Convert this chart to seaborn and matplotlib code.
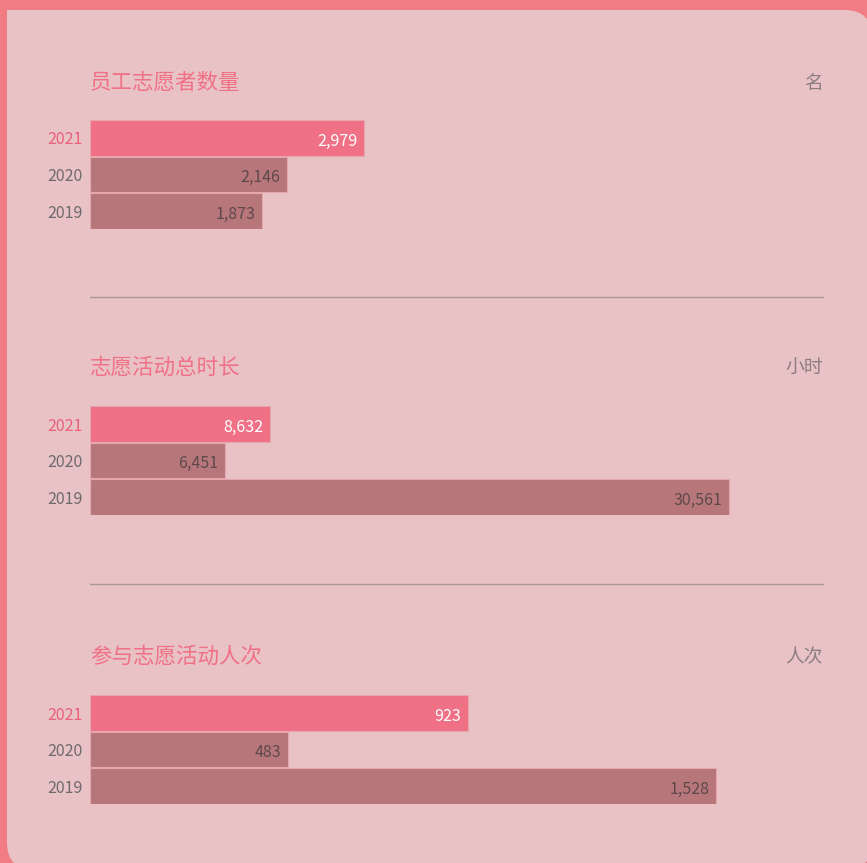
import matplotlib
matplotlib.use("Agg")
import matplotlib.pyplot as plt
from matplotlib.patches import FancyBboxPatch, Rectangle
from matplotlib.lines import Line2D
import seaborn as sns

# ==============================================
# DADOS
# ==============================================
years = ["2021", "2020", "2019"]

titles = ["员工志愿者数量", "志愿活动总时长", "参与志愿活动人次"]
units = ["名", "小时", "人次"]

volunteers = [2979, 2146, 1873]
hours = [8632, 6451, 30561]
participations = [923, 483, 1528]

series = [volunteers, hours, participations]

# ==============================================
# ESTILO
# ==============================================
sns.set_style("white")
plt.rcParams["font.family"] = ["Noto Sans CJK SC", "DejaVu Sans"]

outer_bg = "#F27C84"
inner_bg = "#E9C2C6"
pink = "#F07086"
rose = "#B7777A"
title_color = "#F07086"
unit_color = "#8C7E80"
tick_pink = "#E8607A"
tick_grey = "#6E6A6B"

W, H = 867, 863
fig = plt.figure(figsize=(W / 100, H / 100), dpi=100, facecolor=outer_bg)


def fx(x):
    return x / W


def fy(y):
    return 1 - y / H


# painel interno arredondado (atrás dos eixos)
card = FancyBboxPatch((fx(7), fy(870)), fx(872) - fx(7), fy(10) - fy(870),
                      boxstyle="round,pad=0,rounding_size=0.032",
                      transform=fig.transFigure, facecolor=inner_bg,
                      edgecolor="none", zorder=-2)
fig.patches.append(card)
# canto superior esquerdo reto
fig.patches.append(Rectangle((fx(7), fy(60)), fx(60) - fx(7), fy(10) - fy(60),
                             transform=fig.transFigure, facecolor=inner_bg,
                             edgecolor="none", zorder=-1))

# posições de cada painel (px)
panels = [
    {"title_y": 83, "top": 119.75, "bottom": 229.25, "sep": 297, "xmax": 7967},
    {"title_y": 368, "top": 405.75, "bottom": 515.25, "sep": 584, "xmax": 35070},
    {"title_y": 657, "top": 694.75, "bottom": 804.25, "sep": None, "xmax": 1788},
]

left_px, right_px = 90, 823

for i, p in enumerate(panels):
    ax = fig.add_axes([fx(left_px), fy(p["bottom"]), fx(right_px) - fx(left_px),
                       fy(p["top"]) - fy(p["bottom"])])
    ax.set_facecolor("none")
    vals = series[i]
    sns.barplot(x=vals, y=years, hue=years, order=years, hue_order=years,
                palette=[pink, rose, rose], orient="h", width=0.96, saturation=1,
                edgecolor="#E6A6AE", linewidth=0.8, legend=False, ax=ax)
    ax.set_xlim(0, p["xmax"])
    ax.set_xticks([])
    ax.set_xlabel("")
    ax.set_ylabel("")
    for s in ax.spines.values():
        s.set_visible(False)
    ax.tick_params(axis="y", length=0, pad=5.5, labelsize=11.5)
    for lbl, col in zip(ax.get_yticklabels(), [tick_pink, tick_grey, tick_grey]):
        lbl.set_color(col)
        lbl.set_va("center_baseline")

    # rótulos de valor
    for j, v in enumerate(vals):
        ax.annotate(f"{v:,}", xy=(v, j), xytext=(-5, -1), textcoords="offset points",
                    ha="right", va="center_baseline", fontsize=11.5,
                    color="white" if j == 0 else "#5E484C")

    # título e unidade
    fig.text(fx(left_px), fy(p["title_y"]), titles[i], ha="left", va="center",
             fontsize=15.5, color=title_color)
    fig.text(fx(right_px), fy(p["title_y"]), units[i], ha="right", va="center",
             fontsize=13.5, color=unit_color)

    # linha separadora
    if p["sep"] is not None:
        fig.add_artist(Line2D([fx(left_px), fx(right_px)], [fy(p["sep"]), fy(p["sep"])],
                              color="#A89699", lw=1))

fig.savefig("out.png", dpi=100, facecolor=outer_bg)
